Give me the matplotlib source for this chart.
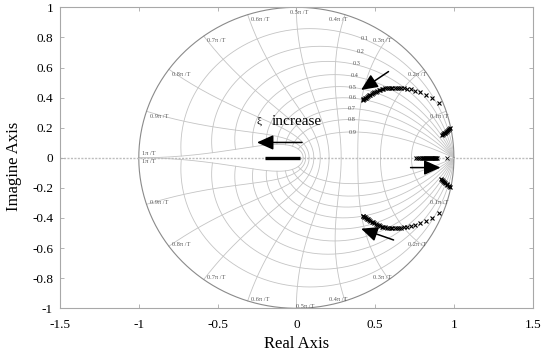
import numpy as np
import matplotlib
matplotlib.use('Agg')
import matplotlib.pyplot as plt

plt.rcParams['font.family'] = ['Liberation Serif', 'DejaVu Serif']
plt.rcParams['axes.unicode_minus'] = False

# ---------------- data ----------------
x_ticks = [-1.5, -1, -0.5, 0, 0.5, 1, 1.5]
y_ticks = [-1, -0.8, -0.6, -0.4, -0.2, 0, 0.2, 0.4, 0.6, 0.8, 1]
x_tick_labels = ['-1.5', '-1', '-0.5', '0', '0.5', '1', '1.5']
y_tick_labels = ['-1', '-0.8', '-0.6', '-0.4', '-0.2', '0', '0.2', '0.4', '0.6', '0.8', '1']

zeta_levels = [0.1, 0.2, 0.3, 0.4, 0.5, 0.6, 0.7, 0.8, 0.9]
wn_levels = [0.1, 0.2, 0.3, 0.4, 0.5, 0.6, 0.7, 0.8, 0.9, 1.0]   # multiples of pi/T
wn_labels = ['0.1\u03c0 /T', '0.2\u03c0 /T', '0.3\u03c0 /T', '0.4\u03c0 /T', '0.5\u03c0 /T',
             '0.6\u03c0 /T', '0.7\u03c0 /T', '0.8\u03c0 /T', '0.9\u03c0 /T', '1\u03c0 /T']

# complex pole branch (upper half); lower half is its conjugate
branch_re = [0.905, 0.858, 0.820, 0.784, 0.752, 0.725, 0.702, 0.682, 0.665, 0.650,
             0.636, 0.623, 0.610, 0.598, 0.586, 0.575, 0.564, 0.553, 0.543, 0.533,
             0.523, 0.513, 0.504, 0.495, 0.486, 0.478, 0.470, 0.462, 0.455, 0.448,
             0.441, 0.435, 0.430, 0.426, 0.423]
branch_im = [0.367, 0.400, 0.417, 0.435, 0.447, 0.455, 0.459, 0.462, 0.464, 0.465,
             0.466, 0.467, 0.467, 0.467, 0.466, 0.465, 0.463, 0.460, 0.457, 0.453,
             0.449, 0.444, 0.439, 0.434, 0.428, 0.424, 0.419, 0.414, 0.409, 0.404,
             0.400, 0.396, 0.392, 0.388, 0.384]

# small cluster near 0.1pi/T
cluster_up_re = [0.926, 0.931, 0.937, 0.943, 0.949, 0.955, 0.961, 0.967, 0.972]
cluster_up_im = [0.152, 0.157, 0.162, 0.168, 0.174, 0.180, 0.186, 0.192, 0.198]
cluster_lo_re = [0.921, 0.927, 0.933, 0.940, 0.946, 0.953, 0.959, 0.966, 0.973]
cluster_lo_im = [-0.144, -0.150, -0.155, -0.161, -0.167, -0.173, -0.180, -0.186, -0.192]

# real-axis poles
real_poles = [0.757, 0.771, 0.785, 0.797, 0.805, 0.811, 0.817, 0.823, 0.829, 0.835,
              0.841, 0.847, 0.853, 0.859, 0.865, 0.871, 0.877, 0.883, 0.889, 0.894]
single_pole = [0.958]

# bar near origin
origin_bar_re = [-0.197, 0.025]

# ---------------- figure ----------------
fig = plt.figure(figsize=(5.5, 3.56), dpi=100)
ax = fig.add_axes([60 / 550, (356 - 308.3) / 356, (532.7 - 60) / 550, (308.3 - 7.3) / 356])

grid_c = '#c4c4c4'
lab_c = '#555555'

# damping-ratio curves
wn = np.linspace(0, np.pi, 500)
for z in zeta_levels:
    r = np.exp(-z * wn)
    th = wn * np.sqrt(1 - z ** 2)
    ax.plot(r * np.cos(th), r * np.sin(th), color=grid_c, lw=0.6, zorder=1)
    ax.plot(r * np.cos(th), -r * np.sin(th), color=grid_c, lw=0.6, zorder=1)
    w0 = 0.35 * np.pi
    rl = np.exp(-z * w0)
    tl = w0 * np.sqrt(1 - z ** 2)
    ax.text(rl * np.cos(tl), rl * np.sin(tl), f'{z:g}', fontsize=4.5, color=lab_c,
            ha='left', va='center', zorder=2)

# natural-frequency curves
zz = np.linspace(0, 1, 300)
for k, lab in zip(wn_levels, wn_labels):
    w = k * np.pi
    r = np.exp(-zz * w)
    th = w * np.sqrt(1 - zz ** 2)
    ax.plot(r * np.cos(th), r * np.sin(th), color=grid_c, lw=0.6, zorder=1)
    ax.plot(r * np.cos(th), -r * np.sin(th), color=grid_c, lw=0.6, zorder=1)
    cx, cy = np.cos(w), np.sin(w)
    if k < 0.5:
        ha, dx = 'right', 0.015
    elif k == 0.5:
        ha, dx = 'left', -0.04
    else:
        ha, dx = 'left', 0.02
    if k == 1.0:
        ax.text(cx + dx, 0.026, lab, fontsize=4.5, color=lab_c, ha=ha, va='center', zorder=2)
        ax.text(cx + dx, -0.027, lab, fontsize=4.5, color=lab_c, ha=ha, va='center', zorder=2)
    else:
        ax.text(cx + dx, cy - 0.032, lab, fontsize=4.5, color=lab_c, ha=ha, va='center', zorder=2)
        dxl = 0.0 if k == 0.5 else dx
        ax.text(cx + dxl, -cy + 0.012, lab, fontsize=4.5, color=lab_c, ha=ha, va='center', zorder=2)

# unit circle
t = np.linspace(0, 2 * np.pi, 600)
ax.plot(np.cos(t), np.sin(t), color='#8a8a8a', lw=0.8, zorder=1)

# real axis dotted line
ax.axhline(0, color='#bdbdbd', lw=1.0, ls=(0, (1.5, 1)), zorder=1)

# poles
mk = dict(marker='x', ls='none', color='black', zorder=4)
ax.plot(branch_re, branch_im, ms=3.2, mew=0.8, **mk)
ax.plot(branch_re, [-v for v in branch_im], ms=3.2, mew=0.8, **mk)
ax.plot(cluster_up_re, cluster_up_im, ms=3.2, mew=0.9, **mk)
ax.plot(cluster_lo_re, cluster_lo_im, ms=3.2, mew=0.9, **mk)
ax.plot(real_poles, [0] * len(real_poles), ms=2.8, mew=0.8, **mk)
ax.plot(single_pole, [0] * len(single_pole), ms=3.2, mew=0.6, **mk)
ax.plot(origin_bar_re, [0, 0], color='black', lw=2.4, solid_capstyle='butt', zorder=4)

# arrows
ap = dict(arrowstyle='-|>,head_length=1.0,head_width=0.45', mutation_scale=10,
          color='black', lw=1.1, shrinkA=0, shrinkB=0)
ax.annotate('', xy=(0.411, 0.451), xytext=(0.585, 0.573), arrowprops=ap, zorder=5)
ax.annotate('', xy=(0.411, -0.471), xytext=(0.617, -0.546), arrowprops=ap, zorder=5)
ax.annotate('', xy=(0.915, -0.065), xytext=(0.725, -0.065), arrowprops=ap, zorder=5)
ax.annotate('', xy=(-0.25, 0.102), xytext=(0.036, 0.102), arrowprops=ap, zorder=5)

ax.text(-0.236, 0.245, '\u03be', fontsize=8, ha='center', va='center', zorder=5)
ax.text(-0.155, 0.215, 'increase', fontsize=11, ha='left', va='baseline', zorder=5)

# axes styling
ax.set_xlim(-1.5, 1.5)
ax.set_ylim(-1, 1)
ax.set_xticks(x_ticks)
ax.set_xticklabels(x_tick_labels)
ax.set_yticks(y_ticks)
ax.set_yticklabels(y_tick_labels)
for s in ax.spines.values():
    s.set_color('#a8a8a8')
    s.set_linewidth(0.8)
ax.tick_params(direction='in', length=3, width=0.6, color='#a8a8a8',
               top=True, right=True, labelsize=9.5)
ax.tick_params(axis='x', pad=8)
ax.tick_params(axis='y', pad=5)

fig.text(296.5 / 550, 1 - 344 / 356, 'Real Axis', fontsize=12, ha='center', va='center')
fig.text(14 / 550, 1 - 166 / 356, 'Imagine Axis', fontsize=12, ha='center', va='center',
         rotation=90)

fig.savefig('out.png', dpi=100)
